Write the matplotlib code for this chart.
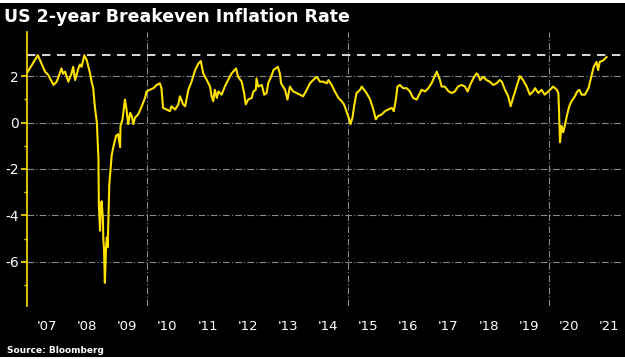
import matplotlib
matplotlib.use('Agg')
import matplotlib.pyplot as plt
from matplotlib.patches import Rectangle

# decimal year / breakeven rate (%)
years = [2007.02, 2007.27, 2007.45, 2007.53, 2007.66, 2007.74, 2007.86, 2007.90, 2007.95,
         2008.03, 2008.11, 2008.15, 2008.20, 2008.28, 2008.32, 2008.36, 2008.43, 2008.49,
         2008.57, 2008.61, 2008.65, 2008.69, 2008.74, 2008.78, 2008.79, 2008.82, 2008.84,
         2008.86, 2008.89, 2008.90, 2008.92, 2008.94, 2008.97, 2008.99, 2009.01, 2009.03,
         2009.05, 2009.09, 2009.11, 2009.15, 2009.22, 2009.27, 2009.32, 2009.33, 2009.38,
         2009.44, 2009.48, 2009.52, 2009.57, 2009.61, 2009.65, 2009.69, 2009.77, 2009.86,
         2009.94, 2009.98, 2010.06, 2010.15, 2010.23, 2010.31, 2010.35, 2010.39, 2010.48,
         2010.56, 2010.60, 2010.69, 2010.77, 2010.81, 2010.89, 2010.94, 2011.02, 2011.10,
         2011.19, 2011.27, 2011.33, 2011.39, 2011.48, 2011.56, 2011.60, 2011.64, 2011.68,
         2011.73, 2011.77, 2011.85, 2011.93, 2012.01, 2012.10, 2012.21, 2012.26, 2012.35,
         2012.41, 2012.45, 2012.51, 2012.60, 2012.64, 2012.70, 2012.72, 2012.76, 2012.85,
         2012.91, 2012.97, 2013.01, 2013.10, 2013.14, 2013.25, 2013.30, 2013.33, 2013.43,
         2013.49, 2013.55, 2013.63, 2013.72, 2013.80, 2013.88, 2013.97, 2014.05, 2014.17,
         2014.22, 2014.30, 2014.38, 2014.47, 2014.51, 2014.59, 2014.67, 2014.76, 2014.84,
         2014.90, 2014.96, 2015.03, 2015.06, 2015.11, 2015.15, 2015.21, 2015.30, 2015.34,
         2015.40, 2015.46, 2015.55, 2015.63, 2015.69, 2015.75, 2015.84, 2015.92, 2016.00,
         2016.09, 2016.14, 2016.19, 2016.23, 2016.29, 2016.37, 2016.46, 2016.54, 2016.62,
         2016.71, 2016.79, 2016.83, 2016.92, 2017.00, 2017.08, 2017.15, 2017.21, 2017.29,
         2017.33, 2017.41, 2017.50, 2017.58, 2017.66, 2017.74, 2017.83, 2017.91, 2017.98,
         2018.04, 2018.12, 2018.20, 2018.24, 2018.29, 2018.37, 2018.45, 2018.53, 2018.62,
         2018.70, 2018.78, 2018.83, 2018.91, 2018.99, 2019.05, 2019.11, 2019.20, 2019.28,
         2019.36, 2019.45, 2019.53, 2019.61, 2019.66, 2019.74, 2019.82, 2019.90, 2019.99,
         2020.07, 2020.11, 2020.20, 2020.24, 2020.26, 2020.28, 2020.32, 2020.36, 2020.40,
         2020.45, 2020.51, 2020.57, 2020.65, 2020.71, 2020.76, 2020.82, 2020.90, 2020.99,
         2021.07, 2021.12, 2021.19, 2021.23, 2021.27, 2021.36, 2021.44]
rate = [2.19, 2.90, 2.19, 2.05, 1.62, 1.76, 2.33, 2.10, 2.19,
        1.76, 2.12, 2.40, 1.83, 2.33, 2.50, 2.40, 2.90, 2.68,
        2.12, 1.76, 1.48, 0.70, 0.00, -1.55, -3.53, -4.66, -3.53,
        -3.39, -4.10, -4.94, -5.50, -6.90, -5.37, -4.94, -5.37, -4.10,
        -2.69, -1.84, -1.41, -1.06, -0.57, -0.50, -1.06, -0.14, 0.14,
        0.99, 0.56, -0.07, 0.42, 0.28, -0.07, 0.21, 0.35, 0.70,
        1.06, 1.34, 1.41, 1.48, 1.62, 1.69, 1.48, 0.63, 0.56,
        0.49, 0.70, 0.56, 0.78, 1.13, 0.78, 0.70, 1.41, 1.76,
        2.26, 2.54, 2.65, 2.12, 1.83, 1.55, 1.13, 0.92, 1.41,
        1.06, 1.34, 1.20, 1.55, 1.83, 2.12, 2.33, 1.97, 1.76,
        1.27, 0.78, 0.99, 1.06, 1.34, 1.41, 1.90, 1.55, 1.62,
        1.20, 1.27, 1.69, 2.05, 2.26, 2.40, 2.12, 1.69, 1.41,
        0.99, 1.55, 1.34, 1.27, 1.20, 1.13, 1.41, 1.69, 1.90,
        1.97, 1.76, 1.76, 1.69, 1.83, 1.62, 1.34, 1.06, 0.92,
        0.78, 0.49, 0.14, -0.07, 0.21, 0.70, 1.27, 1.41, 1.55,
        1.41, 1.27, 0.99, 0.56, 0.14, 0.28, 0.35, 0.49, 0.56,
        0.63, 0.49, 0.99, 1.55, 1.62, 1.48, 1.48, 1.34, 1.06,
        0.99, 1.27, 1.41, 1.34, 1.48, 1.69, 1.97, 2.19, 1.83,
        1.55, 1.55, 1.35, 1.27, 1.34, 1.55, 1.62, 1.55, 1.34,
        1.62, 1.90, 2.12, 2.05, 1.83, 1.97, 1.83, 1.76, 1.62,
        1.69, 1.83, 1.76, 1.41, 1.13, 0.70, 1.06, 1.55, 2.00,
        1.83, 1.55, 1.20, 1.34, 1.48, 1.27, 1.41, 1.20, 1.34,
        1.48, 1.55, 1.41, 1.27, 0.28, -0.85, -0.14, -0.42, -0.14,
        0.28, 0.70, 0.92, 1.13, 1.34, 1.41, 1.20, 1.20, 1.48,
        2.05, 2.40, 2.61, 2.26, 2.61, 2.68, 2.82]

year_labels = ["'07", "'08", "'09", "'10", "'11", "'12", "'13",
               "'14", "'15", "'16", "'17", "'18", "'19", "'20", "'21"]
label_pos = [2007.5 + i for i in range(len(year_labels))]
grid_years = [2010, 2015, 2020]
y_major = [2, 0, -2, -4, -6]
y_minor = [1, -1, -3, -5, -7]
ref_level = 2.9

yellow = '#FFE100'
grid_col = '#8a8a8a'

fig = plt.figure(figsize=(6.25, 3.59), dpi=100)
fig.patch.set_facecolor('white')
fig.patches.append(Rectangle((0, 0.006), 1, 0.985, transform=fig.transFigure,
                             facecolor='black', edgecolor='none', zorder=-10))

ax = fig.add_axes([0.0432, 0.1476, 0.9536, 0.7633])
ax.set_facecolor('black')
ax.set_xlim(2007.0, 2021.85)
ax.set_ylim(-7.9, 3.9)

for v in y_major:
    ax.axhline(v, color=grid_col, lw=0.8, ls='-.', dashes=(6, 2, 1, 2), zorder=1)
for yr in grid_years:
    ax.axvline(yr, color=grid_col, lw=0.8, ls='-.', dashes=(6, 2, 1, 2), zorder=1)
ax.axhline(ref_level, color='white', lw=1.2, ls='--', dashes=(5, 4), zorder=2)

ax.plot(years, rate, color=yellow, lw=1.5, zorder=3)

for s in ['top', 'right', 'bottom']:
    ax.spines[s].set_visible(False)
ax.spines['left'].set_color(yellow)
ax.spines['left'].set_linewidth(1.2)

ax.set_yticks(y_major)
ax.set_yticklabels([str(v) for v in y_major])
ax.set_yticks(y_minor, minor=True)
ax.tick_params(axis='y', which='major', colors=yellow, length=4, width=1.2,
               labelcolor='white', labelsize=10, pad=2)
ax.tick_params(axis='y', which='minor', colors=yellow, length=2.5, width=1)

ax.set_xticks(label_pos)
ax.set_xticklabels(year_labels)
ax.tick_params(axis='x', length=0, labelcolor='white', labelsize=9.5, pad=10)

fig.text(0.006, 0.952, 'US 2-year Breakeven Inflation Rate', color='white',
         fontsize=12.5, fontweight='bold', va='center', ha='left')
fig.text(0.011, 0.025, 'Source: Bloomberg', color='white',
         fontsize=6.5, fontweight='bold', va='center', ha='left')

fig.savefig('out.png', dpi=100, facecolor=fig.get_facecolor())
